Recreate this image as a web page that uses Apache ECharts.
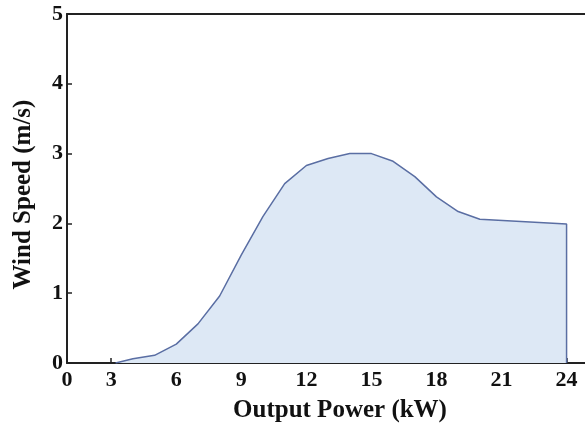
<!DOCTYPE html>
<html>
<head>
<meta charset="utf-8">
<script src="https://cdn.jsdelivr.net/npm/echarts@6/dist/echarts.min.js"></script>
<style>
  html, body { margin: 0; padding: 0; background: #fff; }
  #main { width: 585px; height: 428px; }
</style>
</head>
<body>
<div id="main"></div>
<script>
// data
var power = [3.2, 4, 5, 6, 7, 8, 9, 10, 11, 12, 13, 14, 15, 16, 17, 18, 19, 20, 24, 24];
var speed = [0, 0.06, 0.11, 0.27, 0.56, 0.96, 1.55, 2.1, 2.57, 2.83, 2.93, 3.0, 3.0, 2.89, 2.67, 2.38, 2.17, 2.06, 1.99, 0];
var xTicks = [3, 6, 9, 12, 15, 18, 21, 24];
var yTicks = [0, 1, 2, 3, 4, 5];
var xMin = 0.96, xMax = 24.85;

var points = power.map(function (p, i) { return [p, speed[i]]; });

var font = '"Liberation Serif", "Times New Roman", serif';
var axisColor = '#222';

var myChart = echarts.init(document.getElementById('main'));
myChart.setOption({
  animation: false,
  grid: { left: 67, right: 0, top: 14, bottom: 62 },
  xAxis: [{
    type: 'value',
    min: xMin,
    max: xMax,
    name: 'Output Power (kW)',
    nameLocation: 'middle',
    nameGap: 35,
    // title sits a bit right of the plot centre in the original
    nameTextStyle: { fontFamily: font, fontWeight: 'bold', fontSize: 25, color: '#111', padding: [0, 0, 0, 28] },
    axisLine: { show: true, lineStyle: { color: axisColor, width: 2 } },
    axisTick: { show: true, inside: true, length: 5, customValues: xTicks, lineStyle: { color: axisColor, width: 1.5 } },
    axisLabel: {
      customValues: [xMin].concat(xTicks),
      margin: 6,
      fontFamily: font, fontWeight: 'bold', fontSize: 22, color: '#111',
      formatter: function (v) { return v === xMin ? '0' : String(v); }
    },
    splitLine: { show: false }
  }, {
    type: 'value',
    position: 'top',
    min: xMin,
    max: xMax,
    axisLine: { show: true, lineStyle: { color: axisColor, width: 2 } },
    axisTick: { show: false },
    axisLabel: { show: false },
    splitLine: { show: false }
  }],
  yAxis: {
    type: 'value',
    min: yTicks[0],
    max: yTicks[yTicks.length - 1],
    interval: 1,
    name: 'Wind Speed (m/s)',
    nameLocation: 'middle',
    nameGap: 31,
    nameTextStyle: { fontFamily: font, fontWeight: 'bold', fontSize: 25, color: '#111', padding: [0, 12, 0, 0] },
    axisLine: { show: true, lineStyle: { color: axisColor, width: 2 } },
    axisTick: { show: true, inside: true, length: 5, lineStyle: { color: axisColor, width: 1.5 } },
    axisLabel: { margin: 4, fontFamily: font, fontWeight: 'bold', fontSize: 22, color: '#111' },
    splitLine: { show: false }
  },
  series: [{
    type: 'line',
    data: points,
    symbol: 'none',
    lineStyle: { color: '#5a6ea3', width: 1.5 },
    areaStyle: { color: '#dde8f5', opacity: 1 },
    z: 1
  }]
});
</script>
</body>
</html>
